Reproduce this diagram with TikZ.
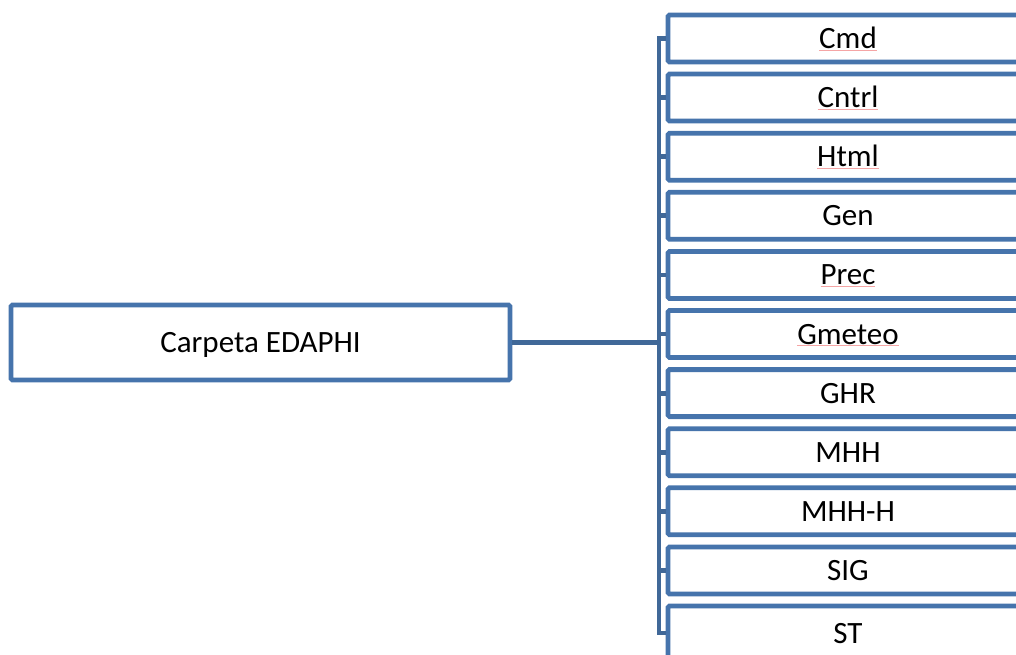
\documentclass[tikz,border=0pt]{standalone}
\usepackage{fontspec}
\setmainfont{Carlito}
\definecolor{boxblue}{RGB}{70,116,172}
\definecolor{linkblue}{RGB}{64,104,152}
\definecolor{errred}{RGB}{245,165,165}
\newcommand\spellerr[1]{\setbox0\hbox{#1}\rlap{\usebox0}\textcolor{errred}{\rule[-2pt]{\wd0}{0.9pt}}}
\tikzset{
  folderbox/.style={draw=boxblue, line width=4.8pt, rounded corners=1.5pt, fill=white,
    font=\fontsize{31}{36}\selectfont, text height=20pt, text depth=0pt, inner sep=0pt},
  childbox/.style={folderbox, minimum width=360pt, minimum height=47pt},
  rootbox/.style={folderbox, minimum width=499pt, minimum height=75pt},
  link/.style={draw=linkblue, line width=4.8pt}
}
\begin{document}
\begin{tikzpicture}[x=1pt,y=-1pt]
\useasboundingbox (0,0) rectangle (1016,655);
\clip (0,0) rectangle (1016,655);
\node[rootbox] (root) at (260.5,342.5) {Carpeta EDAPHI};
\coordinate (bus) at (659,342.5);
\foreach \name/\txt [count=\i from 0] in {
  cmd/\spellerr{Cmd}, cntrl/\spellerr{Cntrl}, html/\spellerr{Html}, gen/Gen,
  prec/\spellerr{Prec}, gmeteo/\spellerr{Gmeteo}, ghr/GHR, mhh/MHH,
  mhhh/MHH-H, sig/SIG} {
  \node[childbox] (\name) at (848,{38.5+59.1*\i}) {\txt};
}
\node[childbox, minimum height=54pt] (st) at (848,633) {ST};
\foreach \name in {cmd,cntrl,html,gen,prec,gmeteo,ghr,mhh,mhhh,sig,st} {
  \draw[link] (root.east) -- (bus) |- (\name.west);
}
\end{tikzpicture}
\end{document}
